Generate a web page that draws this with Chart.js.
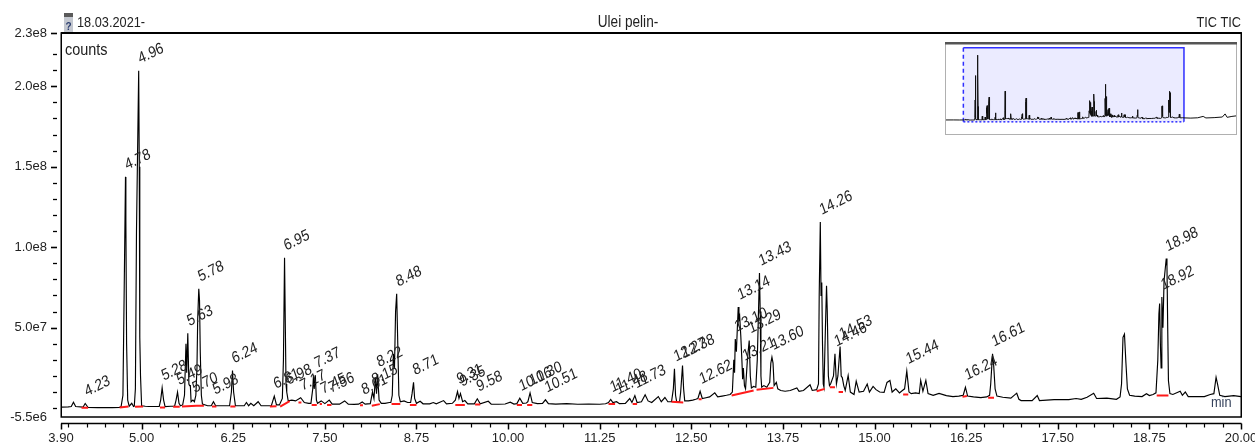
<!DOCTYPE html>
<html><head><meta charset="utf-8">
<script src="https://cdn.jsdelivr.net/npm/chart.js@4.4.1/dist/chart.umd.min.js"></script>
<style>
html,body{margin:0;padding:0;background:#fff;overflow:hidden}
#wrap{position:relative;width:1255px;height:446px;background:#fff}
#main{position:absolute;left:0;top:0}
#inset{position:absolute;left:945px;top:42px}
</style></head><body>
<div id="wrap"><canvas id="main" width="1255" height="446"></canvas><canvas id="inset" width="292" height="93"></canvas></div>
<script>
// ---- DATA (time in min, abundance in millions of counts) ----
const region1 = [[3.90,0.6],[4.00,0.8],[4.04,1.0],[4.07,3.7],[4.10,1.0],[4.20,0.6],[4.23,2.9],[4.27,0.4],[4.40,0.3],[4.60,0.3],[4.70,0.5],[4.72,1.0],[4.745,8],[4.76,65],[4.78,143.7],[4.785,117],[4.795,40],[4.81,5],[4.83,1.2],[4.865,3.0],[4.89,1.0],[4.90,1.2],[4.915,12],[4.93,110],[4.96,209.6],[4.968,150],[4.975,44],[4.985,20],[5.00,1.5],[5.05,1.2],[5.10,1.0],[5.15,1.0],[5.24,1.0],[5.26,5],[5.28,12.6],[5.30,5],[5.32,1.0],[5.40,1.2],[5.45,1.2],[5.47,5],[5.49,9.9],[5.51,3],[5.53,1.5],[5.56,2.0],[5.585,8],[5.605,40],[5.615,22],[5.63,46.6],[5.645,15],[5.655,14],[5.665,14],[5.675,4],[5.70,5],[5.72,4],[5.74,8],[5.755,25],[5.765,55],[5.78,74.2],[5.79,66.9],[5.80,35],[5.815,8],[5.83,2.5],[5.90,1.5],[5.95,1.5],[5.98,4.0],[6.01,1.5],[6.10,1.5],[6.18,1.5],[6.20,1.5],[6.225,10],[6.24,23.4],[6.255,10],[6.28,1.5]];
const region2 = [[6.40,1.5],[6.43,3.5],[6.46,1.5],[6.49,3.0],[6.53,1.5],[6.59,4.0],[6.63,1.5],[6.72,1.5],[6.77,1.5],[6.81,7.5],[6.84,2.0],[6.88,2.0],[6.92,6],[6.935,30],[6.95,93.5],[6.96,54],[6.97,15],[6.98,10],[7.00,4.5],[7.05,5],[7.10,4.5],[7.17,6.5],[7.22,3.5],[7.28,3.0],[7.31,3.0],[7.335,12],[7.345,20.3],[7.355,12],[7.37,20.5],[7.385,5],[7.40,3.0],[7.45,4.5],[7.50,2.8],[7.56,5.0],[7.60,2.5],[7.70,2.5],[7.77,4.5],[7.82,2.5],[7.90,2.3],[7.96,2.5],[8.01,3.8],[8.05,2.5],[8.12,2.8],[8.15,10],[8.17,6],[8.19,19],[8.205,9],[8.22,21],[8.24,5],[8.27,3.0],[8.32,3.0],[8.38,3.5],[8.40,3.5],[8.42,8],[8.435,33.8],[8.45,25],[8.465,60],[8.48,71.1],[8.495,40],[8.51,8],[8.53,4],[8.58,4.5],[8.63,3.5],[8.67,3.5],[8.69,9],[8.71,16.1],[8.725,6],[8.75,3.0],[8.80,4.3],[8.84,2.7],[8.93,2.7],[8.98,3.5],[9.02,2.7]];
const region3 = [[9.12,4.7],[9.16,2.7],[9.24,3.0],[9.28,5],[9.31,10.3],[9.33,6],[9.35,9.0],[9.38,4],[9.41,4.7],[9.45,2.7],[9.54,2.7],[9.58,5.8],[9.62,2.7],[9.73,4.3],[9.77,2.5],[9.87,2.4],[9.96,2.6],[10.03,3.7],[10.08,2.5],[10.12,2.8],[10.16,6.2],[10.20,3.0],[10.25,3.2],[10.27,4],[10.30,9.5],[10.33,3.5],[10.40,2.8],[10.47,3.0],[10.51,5.2],[10.55,2.8],[10.65,2.5],[10.80,2.8],[10.95,2.4],[11.10,2.6],[11.25,2.4],[11.33,2.7],[11.37,3.5],[11.40,5.4],[11.43,3.5],[11.48,4.0],[11.52,2.8],[11.60,3.0],[11.66,6.0],[11.69,3.5],[11.73,7.8],[11.76,3.5],[11.82,4.0],[11.87,8.3],[11.91,4.5],[11.96,3.5],[12.05,7.2],[12.09,4.0],[12.14,6.6],[12.18,4.0],[12.23,4.0],[12.255,12],[12.27,24.5],[12.285,8],[12.30,4.0],[12.34,4.0],[12.355,10],[12.38,26.5],[12.395,12],[12.41,4.5],[12.46,4.5]];
const region4 = [[12.52,5.0],[12.56,5.5],[12.59,6],[12.62,10.5],[12.65,6.0],[12.70,6.5],[12.75,7.0],[12.82,9.5],[12.86,7.0],[12.92,7.5],[12.98,8.0],[13.03,8.5],[13.06,10],[13.08,30],[13.09,22],[13.10,43],[13.115,35],[13.14,62.8],[13.15,55],[13.16,57],[13.175,45],[13.19,30],[13.20,18],[13.21,25],[13.225,14],[13.24,12],[13.265,30],[13.29,42],[13.305,20],[13.32,12.5],[13.35,13.5],[13.38,13],[13.40,30],[13.43,84],[13.44,60],[13.45,20],[13.46,13],[13.49,14],[13.53,13],[13.57,16],[13.585,28],[13.60,31.7],[13.615,28],[13.63,14],[13.66,16],[13.68,12],[13.72,11],[13.78,10.5],[13.85,11],[13.94,12.5],[13.97,10.5],[14.03,11],[14.12,14.5],[14.15,11],[14.21,11.5],[14.235,15],[14.245,70],[14.26,115.7],[14.27,70],[14.28,78],[14.29,40],[14.30,15],[14.31,13],[14.33,50],[14.345,76],[14.355,60],[14.37,20],[14.385,14],[14.40,15],[14.44,20],[14.46,33.8],[14.48,15],[14.50,20],[14.53,38.3],[14.545,20],[14.56,19],[14.58,14],[14.60,11],[14.64,20.3],[14.67,10],[14.72,8.5],[14.75,16.7],[14.79,10],[14.85,10.5],[14.90,15],[14.93,10],[14.98,13.5],[15.02,11.5],[15.07,10],[15.13,9.8],[15.17,16],[15.21,17.2],[15.24,10],[15.29,12],[15.34,9.5],[15.38,11],[15.41,12],[15.44,23],[15.47,10],[15.50,9],[15.56,9.5],[15.61,9.0],[15.63,17.2],[15.66,10.5],[15.70,17.2],[15.73,9],[15.80,8],[15.88,9.2],[15.98,7.8]];
const region5 = [[16.07,7.2],[16.15,7.5],[16.21,8],[16.24,13],[16.27,7.5],[16.35,7.0],[16.45,6.5],[16.53,7.0],[16.57,8.0],[16.585,15],[16.61,33.8],[16.625,27],[16.645,12],[16.67,7.5],[16.75,6.8],[16.86,6.2],[16.94,9.3],[16.97,5.5],[17.00,4.7],[17.15,4.7],[17.22,7.8],[17.25,4.7],[17.45,5.3],[17.65,5.3],[17.75,6.0],[17.82,5.5],[17.90,6.8],[17.99,9.3],[18.03,6.0],[18.17,6.2],[18.30,5.5],[18.35,7],[18.37,15],[18.39,44],[18.41,46],[18.43,28],[18.45,12],[18.48,8],[18.55,7.5],[18.65,7.2],[18.71,9.0],[18.75,7.8],[18.80,8.5],[18.84,9.5],[18.865,30],[18.88,58.7],[18.89,65],[18.90,40],[18.91,25],[18.92,69],[18.935,50],[18.95,79],[18.98,93],[18.99,88],[19.00,50],[19.01,17],[19.03,9],[19.07,8.5],[19.17,10.5],[19.20,8],[19.24,10],[19.28,7.2],[19.40,7.2],[19.50,7.2],[19.58,8.5],[19.63,9],[19.66,19.2],[19.68,15],[19.71,8],[19.78,7.2],[19.90,7.8],[20.00,7.2]];
// overview (inset) extends beyond the zoom window
const insetLead = [[2.56,0.5],[3.20,0.6],[3.60,0.4]];
const insetTail = [[20.5,6.5],[21.0,7.5],[21.4,12],[21.6,7],[22.2,8],[22.8,10],[23.0,20],[23.15,9],[23.5,12],[23.87,14]];
// integration baselines [t1, v1, t2, v2]
const redSegments = [[4.18,0.2,4.27,0.2],[4.70,0.4,4.82,1.0],[4.91,0.8,5.02,1.0],[5.25,0.4,5.32,0.4],[5.43,0.8,5.52,0.8],[5.55,1.0,5.75,1.5],[5.75,1.5,5.85,1.5],[5.96,1.0,6.02,1.0],[6.21,1.0,6.28,1.0],[6.75,1.0,6.84,1.2],[6.89,1.0,7.02,4.3],[7.14,3.5,7.18,3.5],[7.32,2.0,7.39,2.0],[7.43,2.5,7.46,2.5],[7.53,2.0,7.59,2.0],[7.98,1.8,8.02,1.8],[8.14,1.5,8.25,2.5],[8.41,2.5,8.53,2.5],[8.66,2.0,8.75,2.0],[9.28,2.0,9.41,2.0],[9.55,2.2,9.62,2.2],[10.12,2.0,10.19,2.0],[10.26,2.0,10.33,2.0],[11.37,2.5,11.46,2.5],[11.70,2.5,11.76,2.5],[12.23,3.9,12.39,3.5],[12.60,5.5,12.64,5.5],[13.05,7.8,13.35,11],[13.39,11.4,13.62,12.6],[14.21,10.5,14.32,12],[14.39,13.0,14.46,13.0],[14.51,10.0,14.57,10.0],[15.39,8.5,15.46,8.5],[16.20,7.0,16.26,7.5],[16.55,6.5,16.63,6.5],[18.85,7.8,19.01,7.8]];
// labelled peaks
const peakTimes = [4.23,4.78,4.96,5.28,5.49,5.63,5.70,5.78,5.98,6.24,6.81,6.95,6.98,7.17,7.37,7.45,7.56,8.01,8.15,8.22,8.48,8.71,9.31,9.35,9.58,10.16,10.30,10.51,11.40,11.48,11.73,12.27,12.38,12.62,13.10,13.14,13.21,13.29,13.43,13.60,14.26,14.46,14.53,15.44,16.24,16.61,18.92,18.98];
const peakTops  = [2.9,143.7,209.6,12.6,9.9,46.6,5,74.2,4.0,23.4,7.5,93.5,10,6.5,20.5,4.5,5.0,3.8,10,21,71.1,16.1,10.3,9.0,5.8,6.2,9.5,5.2,5.4,4.0,7.8,24.5,26.5,10.5,43,62.8,25,42,84,31.7,115.7,33.8,38.3,23,13,33.8,69,93];
// axes
const xTickValues = [3.9,5,6.25,7.5,8.75,10,11.25,12.5,13.75,15,16.25,17.5,18.75,20];
const xTickLabels = ['3.90','5.00','6.25','7.50','8.75','10.00','11.25','12.50','13.75','15.00','16.25','17.50','18.75','20.00'];
const yTickValues = [-5.5,50,100,150,200,233.1];
const yTickLabels = ['-5.5e6','5.0e7','1.0e8','1.5e8','2.0e8','2.3e8'];
const titleLeft = '18.03.2021-', titleCenter = 'Ulei pelin-', titleRight = 'TIC TIC';
const yUnitLabel = 'counts', xUnitLabel = 'min';

// ---- setup ----
const X_MIN = 3.9, X_MAX = 20, Y_MIN = -5.5, Y_MAX = 233.1;
const FF = "'Liberation Sans', Arial, sans-serif";
const SQ = 0.85; // horizontal condensing of the instrument's font

const traceData = [].concat(region1,region2,region3,region4,region5).map(p=>({x:p[0],y:p[1]}));
const insetData = [].concat(insetLead,region1,region2,region3,region4,region5,insetTail).map(p=>({x:p[0],y:p[1]}));
const redData = [];
redSegments.forEach(s=>{redData.push({x:s[0],y:s[1]},{x:s[2],y:s[3]},{x:s[2]+0.0001,y:null});});

const xTickPositions = [X_MIN];
for (let v=4; v<=X_MAX+1e-6; v+=0.25) xTickPositions.push(Math.round(v*100)/100);
const yTickPositions = [Y_MIN];
for (let v=0; v<=220+1e-6; v+=10) yTickPositions.push(v);
yTickPositions.push(Y_MAX);

function labelFor(v, vals, labels){for(let i=0;i<vals.length;i++){if(Math.abs(vals[i]-v)<1e-6)return labels[i];}return '';}
function sqText(ctx, text, x, y, size, align){
  ctx.save(); ctx.translate(x,y); ctx.scale(SQ,1); ctx.font=size+'px '+FF; ctx.textAlign=align; ctx.textBaseline='alphabetic'; ctx.fillText(text,0,0); ctx.restore();
}

const decorPlugin = {
  id:'decor',
  afterDraw(chart){
    const {ctx, chartArea:a, scales:{x,y}} = chart;
    ctx.save();
    // peak labels
    ctx.fillStyle='#222';
    peakTimes.forEach((t,i)=>{
      const px = x.getPixelForValue(t), py = y.getPixelForValue(peakTops[i]);
      ctx.save(); ctx.translate(px+1.5, py-7); ctx.scale(SQ,1); ctx.rotate(-23*Math.PI/180);
      ctx.font='16px '+FF; ctx.textAlign='left'; ctx.textBaseline='alphabetic'; ctx.fillText(t.toFixed(2),0,0); ctx.restore();
    });
    // frame
    ctx.strokeStyle='#000'; ctx.lineWidth=1.5;
    ctx.strokeRect(a.left+0.25, a.top, a.right-a.left, a.bottom-a.top);
    ctx.lineWidth=2.2; ctx.beginPath(); ctx.moveTo(a.left, a.top); ctx.lineTo(a.right+0.75, a.top); ctx.stroke();
    // y tick marks
    y.ticks.forEach(t=>{
      if (Math.abs(t.value-Y_MIN)<1e-6) return;
      const py = Math.round(y.getPixelForValue(t.value))+0.5;
      const major = labelFor(t.value,yTickValues,yTickLabels)!=='';
      ctx.lineWidth = major?1.6:1.3; ctx.beginPath(); ctx.moveTo(major?51:53, py); ctx.lineTo(57, py); ctx.stroke();
    });
    // separate x axis line and ticks
    const axY = 423.5;
    ctx.lineWidth=1.3; ctx.beginPath(); ctx.moveTo(a.left, axY); ctx.lineTo(a.right+0.5, axY); ctx.stroke();
    x.ticks.forEach(t=>{
      const px = Math.round(x.getPixelForValue(t.value))+0.5;
      const major = labelFor(t.value,xTickValues,xTickLabels)!=='';
      ctx.lineWidth = major?1.5:1.2; ctx.beginPath(); ctx.moveTo(px, axY); ctx.lineTo(px, axY+(major?6:4)); ctx.stroke();
    });
    // titles
    ctx.fillStyle='#222';
    sqText(ctx, titleLeft, 77, 27, 15, 'left');
    sqText(ctx, titleCenter, 628, 27, 16, 'center');
    sqText(ctx, titleRight, 1241, 27, 15, 'right');
    sqText(ctx, yUnitLabel, 65, 55, 17, 'left');
    ctx.fillStyle='#33405a';
    sqText(ctx, xUnitLabel, 1211, 407, 15, 'left');
    // small icon beside the date
    ctx.fillStyle='#c4c8d0'; ctx.fillRect(64,13,9,19);
    ctx.fillStyle='#5a5a5a'; ctx.fillRect(64,13,9,4);
    ctx.fillStyle='#2c3e70'; ctx.font='bold 10px '+FF; ctx.textAlign='center'; ctx.textBaseline='alphabetic'; ctx.fillText('?',68.5,30);
    ctx.restore();
  }
};

new Chart(document.getElementById('main'), {
  type:'line',
  data:{datasets:[
    {data:redData, borderColor:'#ff1a1a', borderWidth:2, pointRadius:0, spanGaps:false, tension:0, order:0},
    {data:traceData, borderColor:'#000', borderWidth:1.15, pointRadius:0, tension:0, order:1}
  ]},
  options:{
    responsive:false, animation:false, devicePixelRatio:1, events:[],
    layout:{padding:{top:33,right:14,left:0,bottom:0}},
    plugins:{legend:{display:false}, tooltip:{enabled:false}},
    scales:{
      x:{type:'linear', min:X_MIN, max:X_MAX, grid:{display:false,drawTicks:false}, border:{display:false},
         afterBuildTicks:s=>{s.ticks = xTickPositions.map(v=>({value:v}));},
         afterFit:s=>{s.height=29; s.paddingLeft=0; s.paddingRight=0;},
         ticks:{autoSkip:false, maxRotation:0, minRotation:0, padding:14, color:'#222', font:{family:FF,size:13},
                callback:v=>labelFor(v,xTickValues,xTickLabels)}},
      y:{type:'linear', min:Y_MIN, max:Y_MAX, grid:{display:false,drawTicks:false}, border:{display:false},
         afterBuildTicks:s=>{s.ticks = yTickPositions.map(v=>({value:v}));},
         afterFit:s=>{s.width=61; s.paddingTop=0; s.paddingBottom=0;},
         ticks:{autoSkip:false, padding:14, color:'#222', font:{family:FF,size:13},
                callback:v=>labelFor(v,yTickValues,yTickLabels)}}
    }
  },
  plugins:[decorPlugin]
});

// ---- overview inset ----
const insetPlugin = {
  id:'insetDecor',
  beforeDraw(chart){const {ctx,width,height}=chart; ctx.save(); ctx.fillStyle='#fff'; ctx.fillRect(0,0,width,height); ctx.restore();},
  beforeDatasetsDraw(chart){
    const {ctx, scales:{x,y}} = chart;
    const l=x.getPixelForValue(X_MIN), r=x.getPixelForValue(X_MAX), t=y.getPixelForValue(Y_MAX), b=y.getPixelForValue(Y_MIN);
    ctx.save();
    ctx.fillStyle='rgba(222,222,255,0.6)'; ctx.fillRect(l,t,r-l,b-t);
    ctx.strokeStyle='#2f2fff'; ctx.lineWidth=1.5;
    ctx.beginPath(); ctx.moveTo(l,t); ctx.lineTo(r,t); ctx.lineTo(r,b); ctx.stroke();
    ctx.setLineDash([4,3]); ctx.beginPath(); ctx.moveTo(l,t); ctx.lineTo(l,b); ctx.stroke();
    ctx.setLineDash([2,2]); ctx.beginPath(); ctx.moveTo(l,b); ctx.lineTo(r,b); ctx.stroke();
    ctx.restore();
  },
  afterDraw(chart){
    const {ctx,width,height}=chart;
    ctx.save();
    ctx.strokeStyle='#b0b0b0'; ctx.lineWidth=1; ctx.strokeRect(0.5,0.5,width-1,height-1);
    ctx.strokeStyle='#555'; ctx.lineWidth=2.5; ctx.beginPath(); ctx.moveTo(0,1.25); ctx.lineTo(width,1.25); ctx.stroke();
    ctx.restore();
  }
};
new Chart(document.getElementById('inset'), {
  type:'line',
  data:{datasets:[{data:insetData, borderColor:'#111', borderWidth:1, pointRadius:0, tension:0}]},
  options:{
    responsive:false, animation:false, devicePixelRatio:1, events:[],
    layout:{padding:0},
    plugins:{legend:{display:false}, tooltip:{enabled:false}},
    scales:{x:{type:'linear', min:2.56, max:23.87, display:false}, y:{type:'linear', min:-48, max:252, display:false}}
  },
  plugins:[insetPlugin]
});
</script>
</body></html>
